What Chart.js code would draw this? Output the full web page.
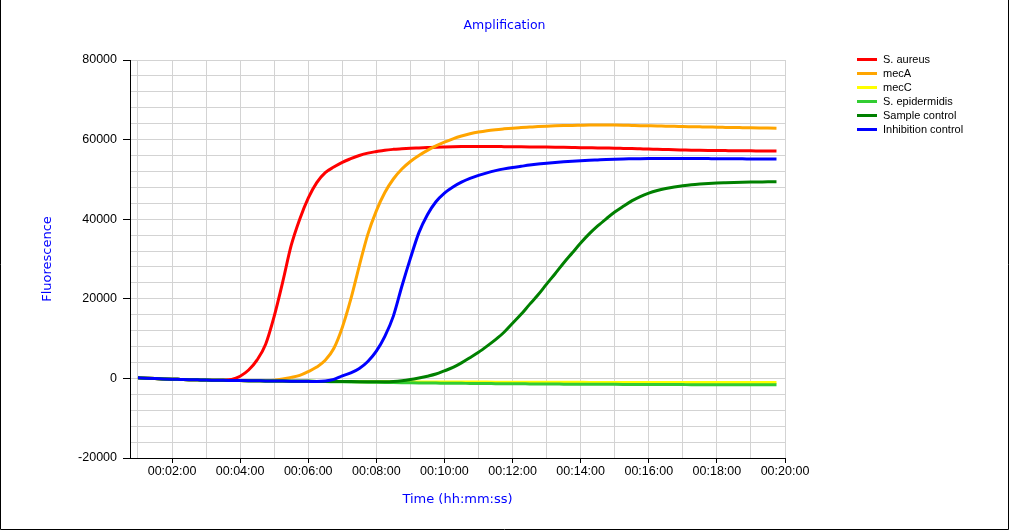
<!DOCTYPE html>
<html>
<head>
<meta charset="utf-8">
<script src="https://cdn.jsdelivr.net/npm/chart.js@4.4.1/dist/chart.umd.min.js"></script>
<style>
  html, body { margin: 0; padding: 0; background: #fff; }
  canvas { display: block; }
</style>
</head>
<body>
<canvas id="myChart" width="1009" height="530"></canvas>
<script>
// time of each reading, seconds
var times = [60, 75, 90, 105, 120, 135, 150, 165, 180, 195, 210, 225, 240, 255, 270, 285, 300, 315, 330, 345,
  360, 375, 390, 405, 420, 435, 450, 465, 480, 495, 510, 525, 540, 555, 570, 585, 600, 615, 630, 645,
  660, 675, 690, 705, 720, 735, 750, 765, 780, 795, 810, 825, 840, 855, 870, 885, 900, 915, 930, 945,
  960, 975, 990, 1005, 1020, 1035, 1050, 1065, 1080, 1095, 1110, 1125, 1140, 1155, 1170, 1185];

var seriesNames = ["S. aureus", "mecA", "mecC", "S. epidermidis", "Sample control", "Inhibition control"];
var seriesColors = ["#ff0000", "#ffa500", "#ffff00", "#32cd32", "#008000", "#0000ff"];

var sAureus = [150, 50, -40, -120, -190, -250, -310, -360, -410, -440, -400, -250, 550, 2100, 4650, 8600, 15600, 24200, 33400, 40000,
  45300, 49200, 51700, 53100, 54300, 55200, 56000, 56600, 57000, 57350, 57550, 57680, 57800, 57900, 58000, 58100, 58170, 58230, 58270, 58280,
  58270, 58260, 58250, 58230, 58210, 58190, 58170, 58150, 58130, 58100, 58060, 58020, 57980, 57950, 57920, 57880, 57840, 57790, 57740, 57680,
  57620, 57570, 57510, 57450, 57400, 57350, 57310, 57280, 57260, 57230, 57200, 57180, 57170, 57150, 57140, 57130];

var mecA = [150, 50, -40, -120, -190, -250, -310, -360, -410, -450, -490, -520, -550, -580, -590, -560, -450, -150, 250, 750,
  1700, 2850, 4550, 7500, 12800, 19900, 28300, 36200, 42100, 46700, 50100, 52600, 54500, 56000, 57300, 58400, 59350, 60200, 60900, 61450,
  61900, 62250, 62500, 62700, 62880, 63020, 63150, 63280, 63380, 63460, 63520, 63570, 63610, 63650, 63680, 63690, 63660, 63620, 63560, 63500,
  63460, 63420, 63370, 63330, 63280, 63240, 63200, 63160, 63110, 63070, 63030, 63000, 62970, 62940, 62910, 62880];

var mecC = [150, 50, -40, -120, -190, -250, -310, -360, -410, -450, -490, -520, -550, -580, -610, -640, -660, -680, -700, -720,
  -740, -760, -780, -790, -800, -810, -820, -830, -840, -850, -860, -870, -880, -885, -890, -900, -905, -910, -915, -925,
  -930, -935, -940, -945, -950, -955, -960, -965, -975, -980, -985, -990, -995, -1000, -1000, -1005, -1005, -1010, -1010, -1015,
  -1015, -1020, -1020, -1025, -1030, -1030, -1035, -1035, -1040, -1040, -1040, -1045, -1045, -1050, -1050, -1050];

var sEpidermidis = [150, 50, -40, -120, -190, -250, -310, -360, -410, -450, -490, -520, -550, -580, -610, -640, -660, -680, -700, -720,
  -740, -760, -800, -830, -860, -890, -920, -950, -980, -1010, -1040, -1070, -1100, -1130, -1160, -1180, -1200, -1220, -1240, -1260,
  -1280, -1300, -1320, -1340, -1350, -1370, -1380, -1400, -1410, -1420, -1440, -1450, -1460, -1470, -1480, -1490, -1500, -1510, -1520, -1520,
  -1530, -1540, -1550, -1550, -1560, -1570, -1570, -1580, -1590, -1590, -1600, -1600, -1610, -1610, -1620, -1620];

var sampleControl = [150, 50, -40, -120, -190, -250, -310, -360, -410, -450, -490, -520, -550, -580, -610, -640, -660, -680, -700, -720,
  -740, -760, -780, -790, -800, -810, -820, -830, -840, -840, -780, -600, -300, 100, 550, 1100, 1900, 2750, 3900, 5200,
  6550, 8100, 9750, 11600, 13850, 16100, 18600, 21000, 23700, 26300, 29000, 31500, 34000, 36300, 38300, 40100, 41800, 43250, 44600, 45700,
  46550, 47200, 47700, 48100, 48400, 48650, 48830, 48970, 49080, 49160, 49230, 49290, 49330, 49360, 49390, 49410];

var inhibitionControl = [150, 50, -40, -120, -190, -250, -310, -360, -410, -450, -490, -520, -550, -580, -610, -640, -660, -680, -700, -720,
  -740, -760, -650, -250, 640, 1360, 2480, 4240, 6840, 10560, 15650, 23150, 30150, 36620, 41140, 44390, 46570, 48100, 49300, 50250,
  51000, 51650, 52200, 52650, 53000, 53300, 53600, 53850, 54050, 54250, 54420, 54570, 54700, 54810, 54900, 54990, 55070, 55130, 55170, 55210,
  55240, 55250, 55250, 55250, 55250, 55240, 55230, 55220, 55210, 55190, 55180, 55160, 55150, 55130, 55120, 55100];

var allSeries = [sAureus, mecA, mecC, sEpidermidis, sampleControl, inhibitionControl];

function hms(sec) {
  var h = Math.floor(sec / 3600), m = Math.floor(sec / 60) % 60, s = sec % 60;
  return [h, m, s].map(function (n) { return (n < 10 ? "0" : "") + n; }).join(":");
}

var tickFont = { family: "'Liberation Sans', Arial, sans-serif", size: 12.5 };
var titleFont = { family: "'DejaVu Sans', Verdana, sans-serif", size: 13 };

// legend drawn to the right of the plot, one short line per series
var sideLegend = {
  id: "sideLegend",
  afterDraw: function (chart) {
    var c = chart.ctx;
    c.save();
    c.font = "11px 'Liberation Sans', Arial, sans-serif";
    c.textBaseline = "middle";
    chart.data.datasets.forEach(function (ds, i) {
      var y = 59.5 + i * 14;
      c.strokeStyle = ds.borderColor;
      c.lineWidth = 3;
      c.beginPath();
      c.moveTo(857, y);
      c.lineTo(877, y);
      c.stroke();
      c.fillStyle = "#000";
      c.fillText(ds.label, 883, y);
    });
    c.restore();
  }
};

var frame = {
  id: "frame",
  afterDraw: function (chart) {
    var c = chart.ctx;
    c.save();
    c.strokeStyle = "#000";
    c.lineWidth = 1;
    c.beginPath();
    c.moveTo(0.5, 0);
    c.lineTo(0.5, 529.5);
    c.lineTo(1008.5, 529.5);
    c.lineTo(1008.5, 0);
    c.stroke();
    c.restore();
  }
};

var ctx = document.getElementById("myChart").getContext("2d");
var myChart = new Chart(ctx, {
  type: "line",
  data: {
    datasets: allSeries.map(function (vals, k) {
      return {
        label: seriesNames[k],
        data: times.map(function (t, i) { return { x: t, y: vals[i] }; }),
        borderColor: seriesColors[k],
        backgroundColor: seriesColors[k],
        borderWidth: 3,
        pointRadius: 0,
        cubicInterpolationMode: "monotone",
        order: allSeries.length - 1 - k
      };
    })
  },
  options: {
    responsive: false,
    animation: false,
    devicePixelRatio: 1,
    layout: { padding: 0 },
    plugins: {
      legend: { display: false },
      tooltip: { enabled: false },
      title: {
        display: true,
        text: "Amplification",
        color: "#0000ff",
        font: { family: "'DejaVu Sans', Verdana, sans-serif", size: 12.5, weight: "normal" },
        padding: { top: 18.5, bottom: 26.5 }
      }
    },
    scales: {
      x: {
        type: "linear",
        min: 46,
        max: 1200,
        afterBuildTicks: function (scale) {
          var t = [];
          for (var v = 60; v <= 1200; v += 60) t.push({ value: v });
          scale.ticks = t;
        },
        afterFit: function (scale) { scale.height = 72; },
        grid: {
          color: "#d3d3d3",
          tickLength: 5,
          tickColor: function (c) { return c.tick && c.tick.value % 120 === 0 ? "#000" : "rgba(0,0,0,0)"; }
        },
        border: { color: "#000", width: 1 },
        ticks: {
          autoSkip: false,
          maxRotation: 0,
          padding: 1,
          color: "#000",
          font: tickFont,
          callback: function (v) { return v % 120 === 0 ? hms(v) : ""; }
        },
        title: {
          display: true,
          text: "Time (hh:mm:ss)",
          color: "#0000ff",
          font: titleFont,
          padding: { top: 0, bottom: 23 }
        }
      },
      y: {
        min: -20000,
        max: 80000,
        afterFit: function (scale) { scale.width = 130; },
        grid: {
          color: "#d3d3d3",
          tickLength: 7,
          tickColor: function (c) { return c.tick && c.tick.value % 20000 === 0 ? "#000" : "rgba(0,0,0,0)"; }
        },
        border: { color: "#000", width: 1 },
        ticks: {
          stepSize: 4000,
          maxTicksLimit: 40,
          autoSkip: false,
          padding: 6,
          color: "#000",
          font: tickFont,
          callback: function (v) { return v % 20000 === 0 ? String(v) : ""; }
        },
        title: {
          display: true,
          text: "Fluorescence",
          color: "#0000ff",
          font: titleFont,
          padding: { top: 40, bottom: 0 }
        }
      },
      yR: {
        position: "right",
        display: true,
        grid: { display: false },
        border: { display: false },
        ticks: { display: false },
        afterFit: function (scale) { scale.width = 224; }
      }
    }
  },
  plugins: [sideLegend, frame]
});
</script>
</body>
</html>
